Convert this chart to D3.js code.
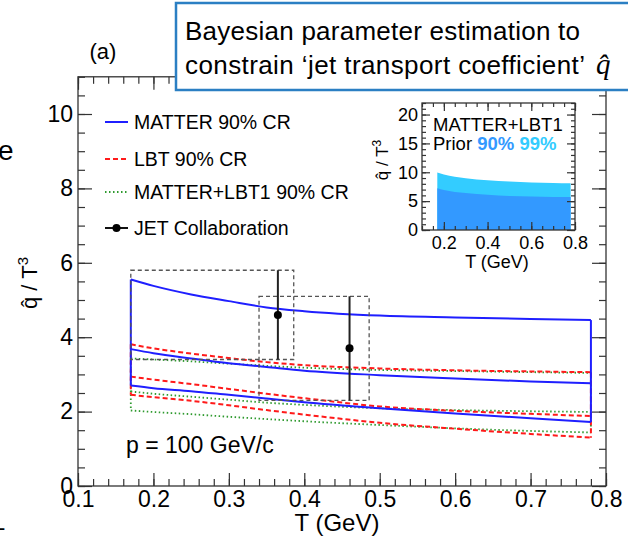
<!DOCTYPE html>
<html lang="en">
<head>
<meta charset="UTF-8">
<title>qhat / T^3</title>
<script src="https://d3js.org/d3.v7.min.js"></script>
<style>
    body { margin: 0; background: #fff; }
    svg { display: block; font-family: "Liberation Sans", Arial, Helvetica, sans-serif; }
    .tick text { fill: #000; }
</style>
</head>
<body>
<div id="chart"></div>
<script>
    // temperature grid (GeV) for the bands
    const tGrid = [0.17, 0.2, 0.25, 0.3, 0.35, 0.4, 0.5, 0.6, 0.7, 0.78]
    const matterUp  = [5.55, 5.38, 5.15, 4.97, 4.80, 4.70, 4.58, 4.53, 4.49, 4.46]
    const matterMid = [3.68, 3.57, 3.43, 3.30, 3.20, 3.10, 2.98, 2.89, 2.81, 2.76]
    const matterLow = [2.70, 2.63, 2.55, 2.45, 2.35, 2.25, 2.09, 1.95, 1.82, 1.72]
    const lbtUp  = [3.81, 3.70, 3.56, 3.44, 3.33, 3.25, 3.16, 3.11, 3.08, 3.06]
    const lbtMid = [2.94, 2.86, 2.74, 2.61, 2.48, 2.36, 2.14, 2.02, 1.94, 1.88]
    const lbtLow = [2.45, 2.39, 2.29, 2.17, 2.04, 1.92, 1.70, 1.54, 1.40, 1.30]
    const comboUp  = [3.43, 3.40, 3.35, 3.29, 3.23, 3.18, 3.12, 3.09, 3.06, 3.04]
    const comboMid = [2.54, 2.48, 2.40, 2.32, 2.24, 2.18, 2.09, 2.04, 2.01, 1.99]
    const comboLow = [2.03, 1.99, 1.93, 1.86, 1.80, 1.74, 1.64, 1.55, 1.48, 1.44]

    // JET collaboration points, error bars and T ranges
    const jetT = [0.365, 0.46]
    const jetQ = [4.6, 3.7]
    const jetLo = [3.4, 2.3]
    const jetHi = [5.8, 5.1]
    const jetTmin = [0.17, 0.34]
    const jetTmax = [0.386, 0.486]

    // inset: prior
    const priorT = [0.17, 0.2, 0.3, 0.4, 0.5, 0.6, 0.7, 0.78]
    const prior99 = [9.96, 9.6, 8.95, 8.6, 8.4, 8.25, 8.15, 8.1]
    const prior90 = [7.25, 6.95, 6.4, 6.1, 5.9, 5.8, 5.72, 5.7]

    const xTicks = [0.1, 0.2, 0.3, 0.4, 0.5, 0.6, 0.7, 0.8]
    const yTicks = [0, 2, 4, 6, 8, 10]
    const insetXTicks = [0.2, 0.4, 0.6, 0.8]
    const insetYTicks = [0, 5, 10, 15, 20]

    const legendLabels = ['MATTER 90% CR', 'LBT 90% CR', 'MATTER+LBT1 90% CR', 'JET Collaboration']

    const blue = '#1f1fff', red = '#ff1a1a', green = '#2f9a2f'

    var svg = d3.select('#chart').append('svg')
        .attr('width', 628)
        .attr('height', 537)

    const x = d3.scaleLinear().domain([0.1, 0.8]).range([78, 606])
    const y = d3.scaleLinear().domain([0, 11]).range([486, 76.8])

    // stray slide text at the left edge
    svg.append('text').attr('x', -2).attr('y', 160).style('font-size', '28px').text('e')
    svg.append('text').attr('x', -2).attr('y', 535).style('font-size', '22px').text('-')

    svg.append('text').attr('x', 103).attr('y', 59).attr('text-anchor', 'middle')
        .style('font-size', '22px').text('(a)')

    // axes with ticks inside the frame
    function range(a, b, s) {
        return d3.range(Math.round((b - a) / s) + 1).map(i => +(a + i * s).toFixed(3))
    }
    const xMinor = range(0.1, 0.8, 0.02)
    const yMinor = range(0, 11, 0.5)

    svg.append('g').attr('transform', 'translate(0,486)')
        .call(d3.axisBottom(x).tickValues(xMinor).tickSizeInner(-7).tickSizeOuter(0).tickFormat(''))
    svg.append('g').attr('transform', 'translate(0,486)')
        .call(d3.axisBottom(x).tickValues(xTicks).tickSizeInner(-13).tickSizeOuter(0).tickPadding(5).tickFormat(d3.format('.1f')))
        .style('font-size', '23px')
    svg.append('g').attr('transform', 'translate(0,76.8)')
        .call(d3.axisTop(x).tickValues(xMinor).tickSizeInner(-7).tickSizeOuter(0).tickFormat(''))
    svg.append('g').attr('transform', 'translate(0,76.8)')
        .call(d3.axisTop(x).tickValues(xTicks).tickSizeInner(-13).tickSizeOuter(0).tickFormat(''))
    svg.append('g').attr('transform', 'translate(78,0)')
        .call(d3.axisLeft(y).tickValues(yMinor).tickSizeInner(-7).tickSizeOuter(0).tickFormat(''))
    svg.append('g').attr('transform', 'translate(78,0)')
        .call(d3.axisLeft(y).tickValues(yTicks).tickSizeInner(-14).tickSizeOuter(0).tickPadding(5))
        .style('font-size', '23px')
    svg.append('g').attr('transform', 'translate(606,0)')
        .call(d3.axisRight(y).tickValues(yMinor).tickSizeInner(-7).tickSizeOuter(0).tickFormat(''))
    svg.append('g').attr('transform', 'translate(606,0)')
        .call(d3.axisRight(y).tickValues(yTicks).tickSizeInner(-14).tickSizeOuter(0).tickFormat(''))
    svg.selectAll('.domain').remove()
    svg.selectAll('.tick line').attr('stroke', '#333').attr('stroke-width', 1.2)

    svg.append('rect')
        .attr('x', x(0.1)).attr('y', y(11))
        .attr('width', x(0.8) - x(0.1)).attr('height', y(0) - y(11))
        .attr('fill', 'none').attr('stroke', '#333').attr('stroke-width', 1.3)

    svg.append('text').attr('x', 337).attr('y', 531).attr('text-anchor', 'middle')
        .style('font-size', '24px').text('T (GeV)')
    svg.append('text').attr('transform', 'translate(37,283) rotate(-90)').attr('text-anchor', 'middle')
        .style('font-size', '22px')
        .call(t => {
            t.append('tspan').text('q\u0302 / T')
            t.append('tspan').attr('dy', -9).style('font-size', '15px').text('3')
        })

    // bands
    const curve = d3.line().x(d => x(d[0])).y(d => y(d[1])).curve(d3.curveMonotoneX)
    const straight = d3.line().x(d => x(d[0])).y(d => y(d[1]))
    const n = tGrid.length - 1

    function band(up, mid, low, color, width, dash) {
        const g = svg.append('g').attr('fill', 'none').attr('stroke', color)
            .attr('stroke-width', width).attr('stroke-dasharray', dash)
        ;[up, mid, low].forEach(s => {
            g.append('path').attr('d', curve(tGrid.map((t, i) => [t, s[i]])))
        })
        g.append('path').attr('d', straight([[tGrid[0], up[0]], [tGrid[0], low[0]]]))
        g.append('path').attr('d', straight([[tGrid[n], up[n]], [tGrid[n], low[n]]]))
    }
    band(comboUp, comboMid, comboLow, green, 1.8, '1.5,2.5')
    band(lbtUp, lbtMid, lbtLow, red, 2, '5,3')
    band(matterUp, matterMid, matterLow, blue, 2, null)

    // JET boxes and points
    svg.selectAll('rect.jetbox')
        .data(jetT)
        .enter()
        .append('rect')
        .attr('class', 'jetbox')
        .attr('x', (d, i) => x(jetTmin[i]))
        .attr('y', (d, i) => y(jetHi[i]))
        .attr('width', (d, i) => x(jetTmax[i]) - x(jetTmin[i]))
        .attr('height', (d, i) => y(jetLo[i]) - y(jetHi[i]))
        .attr('fill', 'none').attr('stroke', '#555').attr('stroke-width', 1.3).attr('stroke-dasharray', '4,3')
    svg.selectAll('line.err')
        .data(jetT)
        .enter()
        .append('line')
        .attr('class', 'err')
        .attr('x1', d => x(d)).attr('x2', d => x(d))
        .attr('y1', (d, i) => y(jetLo[i])).attr('y2', (d, i) => y(jetHi[i]))
        .attr('stroke', '#222').attr('stroke-width', 2)
    svg.selectAll('circle.jet')
        .data(jetT)
        .enter()
        .append('circle')
        .attr('class', 'jet')
        .attr('cx', d => x(d)).attr('cy', (d, i) => y(jetQ[i])).attr('r', 4)
        .attr('fill', '#000')

    svg.append('text').attr('x', 126).attr('y', 453).style('font-size', '23px').text('p = 100 GeV/c')

    // legend
    const legendY = [122, 159, 192, 228]
    const legendStyle = [[blue, 2, null], [red, 2, '5,3'], [green, 1.8, '1.5,2.5'], ['#111', 2, null]]
    const leg = svg.append('g')
    legendLabels.forEach((label, i) => {
        leg.append('line').attr('x1', 105).attr('x2', 128).attr('y1', legendY[i]).attr('y2', legendY[i])
            .attr('stroke', legendStyle[i][0]).attr('stroke-width', legendStyle[i][1])
            .attr('stroke-dasharray', legendStyle[i][2])
        leg.append('text').attr('x', 134).attr('y', legendY[i] + 7).style('font-size', '19.5px').text(label)
    })
    leg.append('circle').attr('cx', 116.5).attr('cy', legendY[3]).attr('r', 4).attr('fill', '#000')

    // inset: prior
    const xi = d3.scaleLinear().domain([0.1, 0.8]).range([422, 575])
    const yi = d3.scaleLinear().domain([0, 22]).range([230, 103])
    const area = d3.area().x(d => xi(d[0])).y0(yi(0)).y1(d => yi(d[1])).curve(d3.curveMonotoneX)
    svg.append('path').attr('d', area(priorT.map((t, i) => [t, prior99[i]]))).attr('fill', '#33ccff')
    svg.append('path').attr('d', area(priorT.map((t, i) => [t, prior90[i]]))).attr('fill', '#3399ff')

    const xiMinor = range(0.1, 0.8, 0.05)
    const yiMinor = range(0, 22, 1)
    svg.append('g').attr('transform', 'translate(0,230)')
        .call(d3.axisBottom(xi).tickValues(xiMinor).tickSizeInner(-4).tickSizeOuter(0).tickFormat(''))
    svg.append('g').attr('transform', 'translate(0,230)')
        .call(d3.axisBottom(xi).tickValues(insetXTicks).tickSizeInner(-8).tickSizeOuter(0).tickPadding(6).tickFormat(d3.format('.1f')))
        .style('font-size', '18px')
    svg.append('g').attr('transform', 'translate(0,103)')
        .call(d3.axisTop(xi).tickValues(xiMinor).tickSizeInner(-4).tickSizeOuter(0).tickFormat(''))
    svg.append('g').attr('transform', 'translate(0,103)')
        .call(d3.axisTop(xi).tickValues(insetXTicks).tickSizeInner(-8).tickSizeOuter(0).tickFormat(''))
    svg.append('g').attr('transform', 'translate(422,0)')
        .call(d3.axisLeft(yi).tickValues(yiMinor).tickSizeInner(-4).tickSizeOuter(0).tickFormat(''))
    svg.append('g').attr('transform', 'translate(422,0)')
        .call(d3.axisLeft(yi).tickValues(insetYTicks).tickSizeInner(-8).tickSizeOuter(0).tickPadding(4))
        .style('font-size', '18px')
    svg.append('g').attr('transform', 'translate(575,0)')
        .call(d3.axisRight(yi).tickValues(yiMinor).tickSizeInner(-4).tickSizeOuter(0).tickFormat(''))
    svg.append('g').attr('transform', 'translate(575,0)')
        .call(d3.axisRight(yi).tickValues(insetYTicks).tickSizeInner(-8).tickSizeOuter(0).tickFormat(''))
    svg.selectAll('.domain').remove()
    svg.selectAll('.tick line').attr('stroke', '#333').attr('stroke-width', 1.2)
    svg.append('rect')
        .attr('x', 422).attr('y', 103).attr('width', 153).attr('height', 127)
        .attr('fill', 'none').attr('stroke', '#333').attr('stroke-width', 1.3)

    svg.append('text').attr('x', 433).attr('y', 131).style('font-size', '18.5px').text('MATTER+LBT1')
    svg.append('text').attr('x', 433).attr('y', 150).style('font-size', '18.5px')
        .call(t => {
            t.append('tspan').text('Prior ')
            t.append('tspan').attr('fill', '#3399ff').style('font-weight', 'bold').text('90%')
            t.append('tspan').text(' ')
            t.append('tspan').attr('fill', '#33ccff').style('font-weight', 'bold').text('99%')
        })
    svg.append('text').attr('x', 497).attr('y', 268).attr('text-anchor', 'middle')
        .style('font-size', '18px').text('T (GeV)')
    svg.append('text').attr('transform', 'translate(388,160) rotate(-90)').attr('text-anchor', 'middle')
        .style('font-size', '17px')
        .call(t => {
            t.append('tspan').text('q\u0302 / T')
            t.append('tspan').attr('dy', -7).style('font-size', '12px').text('3')
        })

    // title box over the plot
    svg.append('rect')
        .attr('x', 176).attr('y', 3).attr('width', 470).attr('height', 87)
        .attr('fill', '#fff').attr('stroke', '#2b7fc3').attr('stroke-width', 2.5)
    svg.append('text').attr('x', 185).attr('y', 40).style('font-size', '26px')
        .attr('textLength', 395).attr('lengthAdjust', 'spacing')
        .text('Bayesian parameter estimation to')
    svg.append('text').attr('x', 185).attr('y', 74).style('font-size', '26px')
        .attr('textLength', 400).attr('lengthAdjust', 'spacing')
        .text('constrain \u2018jet transport coefficient\u2019')
    svg.append('text').attr('x', 596).attr('y', 74)
        .style('font-family', '"Liberation Serif", "DejaVu Serif", serif')
        .style('font-style', 'italic').style('font-size', '29px')
        .text('q\u0302')
</script>
</body>
</html>
